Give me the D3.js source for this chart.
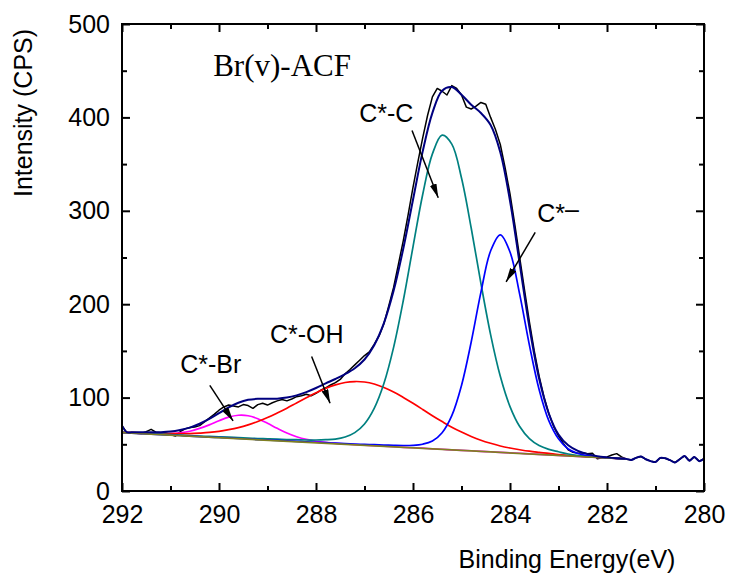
<!DOCTYPE html>
<html>
<head>
<meta charset="utf-8">
<script src="https://cdn.jsdelivr.net/npm/d3@7"></script>
<style>
  body { margin: 0; background: #fff; }
</style>
</head>
<body>
<div id="chart"></div>
<script>

// ---- data ----

// raw XPS counts, 0.1 eV steps
var rawEnergy = [
  292.0, 291.9, 291.8, 291.7, 291.6, 291.5, 291.4, 291.3, 291.2, 291.1,
  291.0, 290.9, 290.8, 290.7, 290.6, 290.5, 290.4, 290.3, 290.2, 290.1,
  290.0, 289.9, 289.8, 289.7, 289.6, 289.5, 289.4, 289.3, 289.2, 289.1,
  289.0, 288.9, 288.8, 288.7, 288.6, 288.5, 288.4, 288.3, 288.2, 288.1,
  288.0, 287.9, 287.8, 287.7, 287.6, 287.5, 287.4, 287.3, 287.2, 287.1,
  287.0, 286.9, 286.8, 286.7, 286.6, 286.5, 286.4, 286.3, 286.2, 286.1,
  286.0, 285.9, 285.8, 285.7, 285.6, 285.5, 285.4, 285.3, 285.2, 285.1,
  285.0, 284.9, 284.8, 284.7, 284.6, 284.5, 284.4, 284.3, 284.2, 284.1,
  284.0, 283.9, 283.8, 283.7, 283.6, 283.5, 283.4, 283.3, 283.2, 283.1,
  283.0, 282.9, 282.8, 282.7, 282.6, 282.5, 282.4, 282.3, 282.2, 282.1,
  282.0, 281.9, 281.8, 281.7, 281.6, 281.5, 281.4, 281.3, 281.2, 281.1,
  281.0, 280.9, 280.8, 280.7, 280.6, 280.5, 280.4, 280.3, 280.2, 280.1,
  280.0
];
var rawCounts = [
  70.0, 62.5, 62.0, 61.8, 61.6, 63.5, 66.0, 63.0, 62.5, 62.0,
  60.5, 58.8, 63.5, 66.5, 68.0, 68.5, 70.0, 74.0, 78.0, 82.0,
  86.5, 90.0, 92.0, 91.0, 90.0, 92.5, 91.5, 88.5, 92.5, 94.0,
  92.0, 94.5, 96.5, 98.0, 96.5, 98.5, 101.0, 102.0, 103.5, 102.0,
  104.5, 108.0, 110.5, 113.5, 116.0, 119.5, 125.5, 130.0, 135.0, 140.0,
  145.0, 149.0, 157.0, 166.0, 179.0, 198.0, 218.0, 243.0, 268.0, 296.0,
  325.0, 352.0, 378.0, 402.0, 422.0, 431.0, 428.0, 424.0, 434.0, 431.0,
  424.0, 411.0, 409.0, 412.0, 416.0, 414.0, 400.0, 387.0, 371.0, 346.0,
  318.0, 285.0, 250.0, 215.0, 181.0, 150.0, 123.0, 101.0, 83.0, 69.0,
  59.0, 51.0, 44.0, 41.5, 40.5, 41.0, 40.0, 40.5, 34.5, 35.5,
  36.5, 38.5, 40.0, 36.5, 34.0, 33.3, 35.5, 37.0, 34.0, 32.0,
  31.0, 35.5, 35.0, 33.0, 30.5, 34.0, 37.5, 32.5, 36.5, 32.0,
  34.5
];

// fitted components, 0.2 eV steps
var fitEnergy = [
  292.0, 291.8, 291.6, 291.4, 291.2, 291.0, 290.8, 290.6, 290.4, 290.2,
  290.0, 289.8, 289.6, 289.4, 289.2, 289.0, 288.8, 288.6, 288.4, 288.2,
  288.0, 287.8, 287.6, 287.4, 287.2, 287.0, 286.8, 286.6, 286.4, 286.2,
  286.0, 285.8, 285.6, 285.4, 285.2, 285.0, 284.8, 284.6, 284.4, 284.2,
  284.0, 283.8, 283.6, 283.4, 283.2, 283.0, 282.8, 282.6, 282.4, 282.2,
  282.0, 281.8, 281.6
];
var peakCBr = [
  62.6, 62.2, 61.6, 61.3, 61.1, 61.4, 62.3, 64.0, 67.0, 70.8,
  75.2, 79.1, 81.1, 80.6, 77.4, 72.5, 67.1, 62.1, 58.1, 55.2,
  53.3, 52.0, 51.0, 50.3, 49.7, 49.1, 48.6, 48.0, 47.4, 46.8,
  46.3, 45.8, 45.2, 44.7, 44.1, 43.6, 43.1, 42.5, 42.0, 41.4,
  40.9, 40.4, 39.8, 39.3, 38.7, 38.2, 37.7, 37.1, 36.6, 36.0,
  35.5, 35.0, 34.4
];
var peakCOH = [
  63.1, 62.7, 62.2, 61.9, 61.5, 61.4, 61.4, 61.5, 62.0, 62.7,
  63.9, 65.7, 67.9, 70.8, 74.4, 78.6, 83.5, 88.7, 94.3, 99.8,
  105.1, 109.9, 113.6, 116.2, 117.2, 116.7, 114.6, 110.9, 106.1, 100.2,
  93.9, 87.3, 80.6, 74.3, 68.3, 63.1, 58.4, 54.4, 51.1, 48.2,
  46.0, 44.2, 42.6, 41.4, 40.3, 39.0, 38.3, 37.5, 36.9, 36.2,
  35.6, 35.0, 34.4
];
var peakCC = [
  62.9, 62.4, 61.8, 61.4, 60.8, 60.4, 59.9, 59.4, 58.9, 58.4,
  58.0, 57.6, 57.1, 56.7, 56.2, 55.9, 55.5, 55.1, 54.9, 54.6,
  54.6, 54.9, 55.6, 57.8, 62.5, 71.8, 88.5, 115.1, 153.8, 204.0,
  261.4, 317.5, 360.9, 381.0, 371.4, 335.1, 281.6, 222.4, 167.5, 122.8,
  90.4, 69.0, 56.1, 48.7, 44.6, 42.0, 39.6, 38.0, 37.0, 36.2,
  35.6, 35.0, 34.4
];
var peakCMinus = [
  62.5, 62.0, 61.5, 61.0, 60.4, 59.9, 59.4, 58.8, 58.3, 57.7,
  57.3, 56.8, 56.2, 55.7, 55.1, 54.7, 54.2, 53.6, 53.2, 52.6,
  52.2, 51.7, 51.2, 50.8, 50.3, 49.9, 49.6, 49.2, 48.9, 48.7,
  48.9, 50.1, 53.5, 62.4, 80.7, 113.0, 159.5, 212.6, 257.0, 274.3,
  255.9, 210.5, 156.2, 108.7, 75.3, 55.9, 45.0, 40.2, 37.8, 36.4,
  35.6, 35.0, 34.4
];

// linear background
var baseEnergy = [292.0, 281.6];
var baseCounts = [62.4, 34.3];

// cumulative fit envelope (follows raw data outside the fit window)
var envEnergy = [
  292.0, 291.9, 291.8, 291.6, 291.4, 291.2, 291.0, 290.8, 290.6, 290.4,
  290.2, 290.0, 289.8, 289.6, 289.4, 289.2, 289.0, 288.8, 288.6, 288.4,
  288.2, 288.0, 287.8, 287.6, 287.4, 287.2, 287.0, 286.8, 286.6, 286.4,
  286.2, 286.0, 285.8, 285.6, 285.4, 285.2, 285.0, 284.8, 284.6, 284.4,
  284.2, 284.0, 283.8, 283.6, 283.4, 283.2, 283.0, 282.8, 282.6, 282.4,
  282.2, 282.0, 281.8, 281.6, 281.5, 281.4, 281.3, 281.2, 281.1, 281.0,
  280.9, 280.8, 280.7, 280.6, 280.5, 280.4, 280.3, 280.2, 280.1, 280.0
];
var envCounts = [
  70.0, 63.0, 62.9, 62.8, 62.8, 63.0, 63.7, 65.4, 67.9, 72.0,
  77.1, 83.3, 89.6, 94.5, 97.6, 98.7, 98.7, 98.9, 100.0, 102.4,
  105.9, 110.3, 115.2, 119.9, 125.1, 131.5, 140.8, 156.1, 179.7, 214.3,
  259.6, 311.9, 363.6, 404.9, 428.6, 432.5, 424.3, 413.6, 404.7, 391.9,
  362.8, 310.8, 243.2, 175.5, 120.4, 83.0, 60.5, 49.0, 43.0, 39.5,
  37.3, 36.0, 35.0, 34.4, 33.3, 35.5, 37.0, 34.0, 32.0, 31.0,
  35.5, 35.0, 33.0, 30.5, 34.0, 37.5, 32.5, 36.5, 32.0, 34.5
];

var xMajor = [292, 290, 288, 286, 284, 282, 280];
var xMinor = [291, 289, 287, 285, 283, 281];
var yMajor = [0, 100, 200, 300, 400, 500];
var yMinor = [50, 150, 250, 350, 450];

// peak labels: text anchor point and arrow (energy, counts)
var peakLabels = [
  {text: "C*-Br", at: [290.80, 126], from: [290.19, 113], to: [289.71, 75]},
  {text: "C*-OH", at: [288.95, 158], from: [288.09, 144], to: [287.71, 94]},
  {text: "C*-C",  at: [287.11, 395], from: [286.02, 386], to: [285.48, 314]},
  {text: "C*",    at: [283.44, 288], from: [283.48, 277], to: [284.08, 224], sup: "\u2013"}
];
var sampleName = "Br(v)-ACF";

// ---- chart ----
var margin = {top: 24, right: 26, bottom: 86, left: 122},
    width = 730 - margin.left - margin.right,
    height = 577 - margin.top - margin.bottom;

var sans = "'Liberation Sans', Arial, sans-serif";

var root = d3.select("#chart").append("svg")
    .attr("width", 730)
    .attr("height", 577);

root.append("defs").append("marker")
    .attr("id", "arrow")
    .attr("viewBox", "0 0 14 7")
    .attr("refX", 14).attr("refY", 3.5)
    .attr("markerWidth", 14).attr("markerHeight", 7)
    .attr("markerUnits", "userSpaceOnUse")
    .attr("orient", "auto")
  .append("path")
    .attr("d", "M0,0 L14,3.5 L0,7 Z")
    .attr("fill", "#000");

var svg = root.append("g")
    .attr("transform", "translate(" + margin.left + "," + margin.top + ")");

var x = d3.scaleLinear().domain([292, 280]).range([0, width]);
var y = d3.scaleLinear().domain([0, 500]).range([height, 0]);

function zip(xs, ys) { return xs.map(function(e, i) { return [e, ys[i]]; }); }

var smooth = d3.line()
    .x(function(d) { return x(d[0]); })
    .y(function(d) { return y(d[1]); })
    .curve(d3.curveCatmullRom.alpha(0.5));
var straight = d3.line()
    .x(function(d) { return x(d[0]); })
    .y(function(d) { return y(d[1]); });

// raw data
svg.append("path")
    .attr("d", straight(zip(rawEnergy, rawCounts)))
    .attr("fill", "none").attr("stroke", "#000").attr("stroke-width", 1.5)
    .attr("stroke-linejoin", "round");

// components
var comps = [
  {vals: peakCBr, color: "#ff00ff"},
  {vals: peakCOH, color: "#ff0000"},
  {vals: peakCC, color: "#008080"},
  {vals: peakCMinus, color: "#0000ff"}
];
comps.forEach(function(c) {
  svg.append("path")
      .attr("d", smooth(zip(fitEnergy, c.vals)))
      .attr("fill", "none").attr("stroke", c.color).attr("stroke-width", 1.7);
});

// background
svg.append("path")
    .attr("d", straight(zip(baseEnergy, baseCounts)))
    .attr("fill", "none").attr("stroke", "#808020").attr("stroke-width", 1.8);

// envelope
svg.append("path")
    .attr("d", smooth(zip(envEnergy, envCounts)))
    .attr("fill", "none").attr("stroke", "#000080").attr("stroke-width", 2)
    .attr("stroke-linejoin", "round");

// axes: ticks point inward on all four sides
function tidy(g) {
  g.select(".domain").remove();
  g.selectAll("line").attr("stroke", "#000").attr("stroke-width", 2);
  g.attr("font-family", sans).attr("font-size", 25);
  g.selectAll("text").attr("fill", "#000");
}

svg.append("g").attr("transform", "translate(0," + height + ")")
    .call(d3.axisBottom(x).tickValues(xMajor).tickSize(-8).tickPadding(14).tickFormat(d3.format("d")))
    .call(tidy);
svg.append("g").attr("transform", "translate(0," + height + ")")
    .call(d3.axisBottom(x).tickValues(xMinor).tickSize(-5).tickFormat(""))
    .call(tidy);
svg.append("g")
    .call(d3.axisTop(x).tickValues(xMajor).tickSize(-8).tickFormat(""))
    .call(tidy);
svg.append("g")
    .call(d3.axisTop(x).tickValues(xMinor).tickSize(-5).tickFormat(""))
    .call(tidy);

svg.append("g")
    .call(d3.axisLeft(y).tickValues(yMajor).tickSize(-8).tickPadding(12))
    .call(tidy);
svg.append("g")
    .call(d3.axisLeft(y).tickValues(yMinor).tickSize(-5).tickFormat(""))
    .call(tidy);
svg.append("g").attr("transform", "translate(" + width + ",0)")
    .call(d3.axisRight(y).tickValues(yMajor).tickSize(-8).tickFormat(""))
    .call(tidy);
svg.append("g").attr("transform", "translate(" + width + ",0)")
    .call(d3.axisRight(y).tickValues(yMinor).tickSize(-5).tickFormat(""))
    .call(tidy);

// frame
svg.append("rect")
    .attr("width", width).attr("height", height)
    .attr("fill", "none").attr("stroke", "#000").attr("stroke-width", 2);

// axis titles
root.append("text")
    .attr("x", 567).attr("y", 568)
    .attr("text-anchor", "middle")
    .attr("font-family", sans).attr("font-size", 25)
    .text("Binding Energy(eV)");
root.append("text")
    .attr("transform", "translate(32,113) rotate(-90)")
    .attr("text-anchor", "middle")
    .attr("font-family", sans).attr("font-size", 25)
    .text("Intensity (CPS)");

// sample name
svg.append("text")
    .attr("x", x(290.12)).attr("y", y(444))
    .attr("font-family", "'Liberation Serif', 'Times New Roman', serif")
    .attr("font-size", 31)
    .text(sampleName);

// peak labels with arrows
peakLabels.forEach(function(p) {
  var t = svg.append("text")
      .attr("x", x(p.at[0])).attr("y", y(p.at[1]))
      .attr("font-family", sans).attr("font-size", 25)
      .text(p.text);
  if (p.sup) {
    t.append("tspan").attr("dy", -4).text(p.sup);
  }
  svg.append("line")
      .attr("x1", x(p.from[0])).attr("y1", y(p.from[1]))
      .attr("x2", x(p.to[0])).attr("y2", y(p.to[1]))
      .attr("stroke", "#000").attr("stroke-width", 1.5)
      .attr("marker-end", "url(#arrow)");
});

</script>
</body>
</html>
